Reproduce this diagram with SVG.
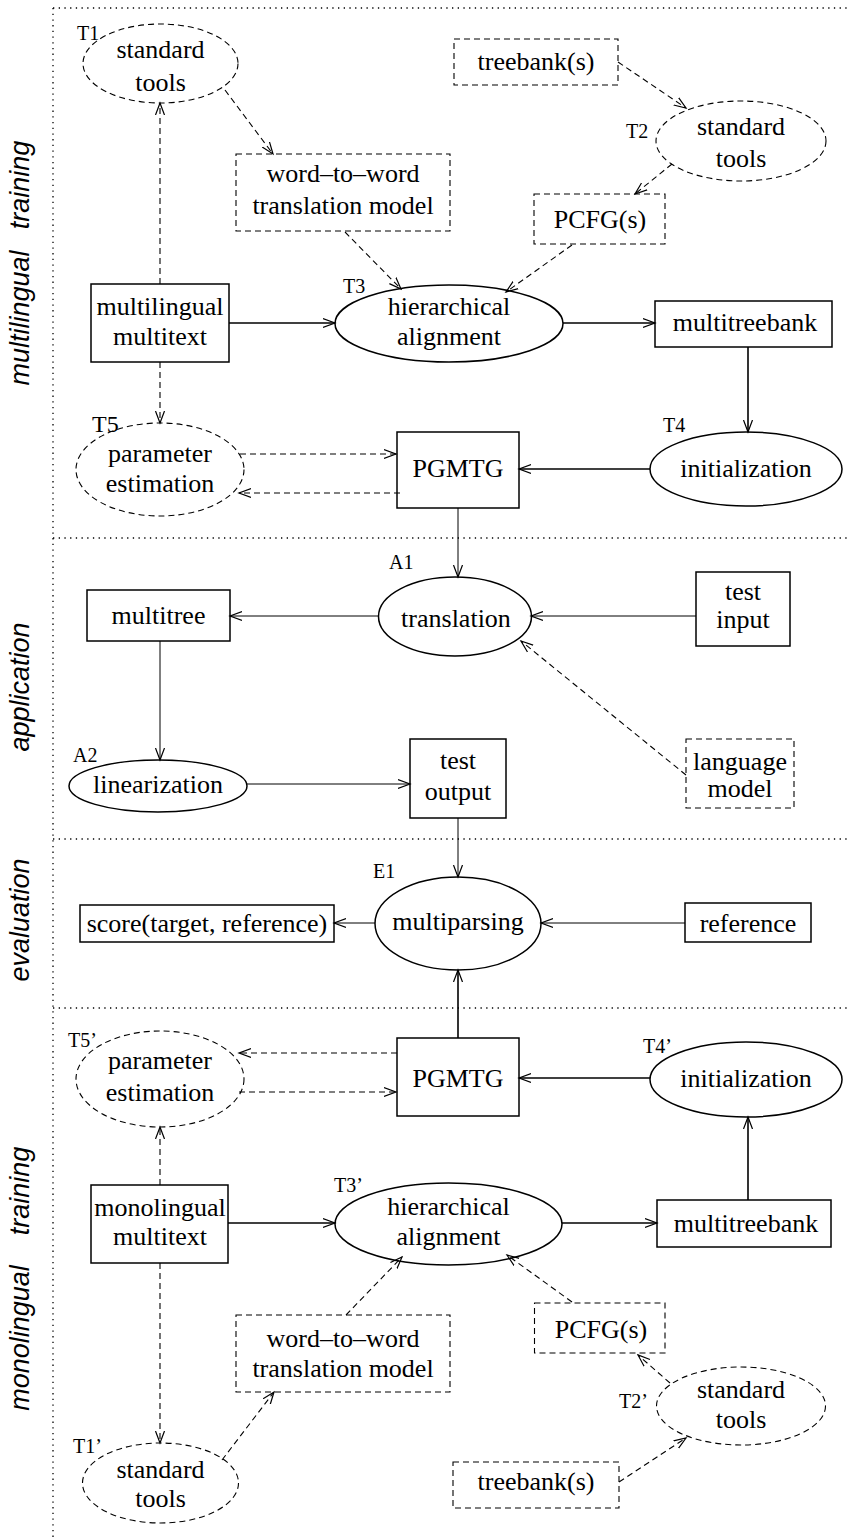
<svg xmlns="http://www.w3.org/2000/svg" width="851" height="1537" viewBox="0 0 851 1537">
<style>
.n{fill:#fff;stroke:#000;stroke-width:1.5}
.nd{fill:#fff;stroke:#000;stroke-width:1.1;stroke-dasharray:6 4}
.t{font-family:"Liberation Serif","Times New Roman",serif;font-size:26px;text-anchor:middle;fill:#000}
.lb{font-family:"Liberation Serif","Times New Roman",serif;font-size:20px;fill:#000}
.sec{font-family:"Liberation Sans",Arial,sans-serif;font-size:27px;font-style:italic;text-anchor:middle;fill:#000}
.dot{fill:none;stroke:#000;stroke-width:1.3;stroke-dasharray:1.3 4.4}
.e{fill:none;stroke:#000;stroke-width:1.6;marker-end:url(#ah)}
.et{fill:none;stroke:#000;stroke-width:1;marker-end:url(#ah)}
.ed{fill:none;stroke:#000;stroke-width:1.1;stroke-dasharray:6 4;marker-end:url(#ah)}
</style>
<defs>
<marker id="ah" markerUnits="userSpaceOnUse" markerWidth="14" markerHeight="12" refX="12" refY="5" orient="auto" viewBox="0 0 14 10">
<path d="M0,0.5 L12,5 L0,9.5" fill="none" stroke="#000" stroke-width="1.2"/>
</marker>
</defs>
<rect width="851" height="1537" fill="#fff"/>
<g id="frame">
<line class="dot" x1="53" y1="8" x2="53" y2="1537"/>
<line class="dot" x1="53" y1="8" x2="851" y2="8"/>
<line class="dot" x1="53" y1="538" x2="851" y2="538"/>
<line class="dot" x1="53" y1="839" x2="851" y2="839"/>
<line class="dot" x1="53" y1="1008" x2="851" y2="1008"/>
</g>
<g id="sections">
<text class="sec" transform="translate(29,185) rotate(-90)">training</text>
<text class="sec" transform="translate(29,318) rotate(-90)">multilingual</text>
<text class="sec" transform="translate(29,687) rotate(-90)">application</text>
<text class="sec" transform="translate(29,920) rotate(-90)">evaluation</text>
<text class="sec" transform="translate(29,1191) rotate(-90)">training</text>
<text class="sec" transform="translate(29,1338) rotate(-90)">monolingual</text>
</g>
<g id="T1">
<ellipse class="nd" cx="160.5" cy="63.5" rx="77.5" ry="39.5"/>
<text class="t" x="160.5" y="58">standard</text>
<text class="t" x="160.5" y="91">tools</text>
<text class="lb" x="77" y="40">T1</text>
</g>
<g id="w2w">
<rect class="nd" x="236" y="154" width="214" height="77"/>
<text class="t" x="343" y="182">word–to–word</text>
<text class="t" x="343" y="214">translation model</text>
</g>
<g id="treebank">
<rect class="nd" x="454" y="39" width="164" height="46"/>
<text class="t" x="536" y="70">treebank(s)</text>
</g>
<g id="T2">
<ellipse class="nd" cx="741" cy="141" rx="85" ry="40"/>
<text class="t" x="741" y="135">standard</text>
<text class="t" x="741" y="167">tools</text>
<text class="lb" x="626" y="138">T2</text>
</g>
<g id="pcfg">
<rect class="nd" x="534" y="194" width="131" height="50"/>
<text class="t" x="600" y="228">PCFG(s)</text>
</g>
<g id="multitext">
<rect class="n" x="91" y="284" width="138" height="78"/>
<text class="t" x="160" y="315">multilingual</text>
<text class="t" x="160" y="345">multitext</text>
</g>
<g id="T3">
<ellipse class="n" cx="449" cy="323.5" rx="114" ry="38.5"/>
<text class="t" x="449" y="315">hierarchical</text>
<text class="t" x="449" y="345">alignment</text>
<text class="lb" x="343" y="293">T3</text>
</g>
<g id="multitreebank">
<rect class="n" x="655" y="301" width="177" height="46"/>
<text class="t" x="745" y="331">multitreebank</text>
</g>
<g id="T5">
<ellipse class="nd" cx="160" cy="469.5" rx="84" ry="46.5"/>
<text class="t" x="160" y="462">parameter</text>
<text class="t" x="160" y="492">estimation</text>
<text class="lb" x="92" y="432" style="font-size:24px">T5</text>
</g>
<g id="PGMTG">
<rect class="n" x="397" y="432" width="122" height="76"/>
<text class="t" x="458" y="477">PGMTG</text>
</g>
<g id="T4">
<ellipse class="n" cx="746" cy="469" rx="96" ry="37"/>
<text class="t" x="746" y="477">initialization</text>
<text class="lb" x="663" y="432">T4</text>
</g>
<g id="A1">
<ellipse class="n" cx="455" cy="616.5" rx="76.5" ry="39.5"/>
<text class="t" x="456" y="627">translation</text>
<text class="lb" x="389" y="569">A1</text>
</g>
<g id="multitree">
<rect class="n" x="87" y="590" width="143" height="51"/>
<text class="t" x="158.5" y="624">multitree</text>
</g>
<g id="testinput">
<rect class="n" x="696" y="572" width="94" height="74"/>
<text class="t" x="743" y="600">test</text>
<text class="t" x="743" y="628">input</text>
</g>
<g id="A2">
<ellipse class="n" cx="158" cy="786" rx="89" ry="26"/>
<text class="t" x="158" y="793">linearization</text>
<text class="lb" x="73" y="762">A2</text>
</g>
<g id="testoutput">
<rect class="n" x="410" y="739" width="96" height="79"/>
<text class="t" x="458" y="769">test</text>
<text class="t" x="458" y="800">output</text>
</g>
<g id="langmodel">
<rect class="nd" x="686" y="739" width="108" height="69"/>
<text class="t" x="740" y="770">language</text>
<text class="t" x="740" y="797">model</text>
</g>
<g id="E1">
<ellipse class="n" cx="458" cy="923.5" rx="83" ry="46.5"/>
<text class="t" x="458" y="930">multiparsing</text>
<text class="lb" x="373" y="878">E1</text>
</g>
<g id="score">
<rect class="n" x="80" y="905" width="254" height="37"/>
<text class="t" x="207" y="932">score(target, reference)</text>
</g>
<g id="reference">
<rect class="n" x="685" y="903" width="126" height="39"/>
<text class="t" x="748" y="932">reference</text>
</g>
<g id="T5p">
<ellipse class="nd" cx="160" cy="1079" rx="84" ry="48"/>
<text class="t" x="160" y="1069">parameter</text>
<text class="t" x="160" y="1101">estimation</text>
<text class="lb" x="68" y="1047">T5’</text>
</g>
<g id="PGMTGp">
<rect class="n" x="397" y="1038" width="122" height="78"/>
<text class="t" x="458" y="1087">PGMTG</text>
</g>
<g id="T4p">
<ellipse class="n" cx="746" cy="1079.5" rx="96" ry="37.5"/>
<text class="t" x="746" y="1087">initialization</text>
<text class="lb" x="643" y="1053">T4’</text>
</g>
<g id="monotext">
<rect class="n" x="91" y="1185" width="137" height="78"/>
<text class="t" x="160" y="1216">monolingual</text>
<text class="t" x="160" y="1245">multitext</text>
</g>
<g id="T3p">
<ellipse class="n" cx="448.5" cy="1224" rx="113.5" ry="41"/>
<text class="t" x="448.5" y="1215">hierarchical</text>
<text class="t" x="448.5" y="1245">alignment</text>
<text class="lb" x="334" y="1192">T3’</text>
</g>
<g id="multitreebankp">
<rect class="n" x="657" y="1200" width="174" height="47"/>
<text class="t" x="746" y="1232">multitreebank</text>
</g>
<g id="w2wp">
<rect class="nd" x="236" y="1315" width="214" height="77"/>
<text class="t" x="343" y="1347">word–to–word</text>
<text class="t" x="343" y="1377">translation model</text>
</g>
<g id="pcfgp">
<rect class="nd" x="534.5" y="1303" width="130.5" height="50"/>
<text class="t" x="601" y="1338">PCFG(s)</text>
</g>
<g id="T2p">
<ellipse class="nd" cx="741" cy="1406" rx="84.5" ry="39"/>
<text class="t" x="741" y="1398">standard</text>
<text class="t" x="741" y="1428">tools</text>
<text class="lb" x="619" y="1408">T2’</text>
</g>
<g id="treebankp">
<rect class="nd" x="453" y="1462" width="166" height="46"/>
<text class="t" x="536" y="1490">treebank(s)</text>
</g>
<g id="T1p">
<ellipse class="nd" cx="160.5" cy="1483" rx="78" ry="40"/>
<text class="t" x="160.5" y="1478">standard</text>
<text class="t" x="160.5" y="1507">tools</text>
<text class="lb" x="73" y="1453">T1’</text>
</g>
<g id="connectors">
<line class="ed" x1="225" y1="90" x2="273" y2="154"/>
<line class="ed" x1="160" y1="284" x2="160" y2="103"/>
<line class="ed" x1="160" y1="362" x2="160" y2="423"/>
<line class="ed" x1="618" y1="62" x2="686" y2="108"/>
<line class="ed" x1="672" y1="164" x2="635" y2="194"/>
<line class="ed" x1="345" y1="232" x2="401" y2="289"/>
<line class="ed" x1="572" y1="245" x2="506" y2="292"/>
<line class="e" x1="229" y1="323" x2="335" y2="323"/>
<line class="e" x1="563" y1="323" x2="655" y2="323"/>
<line class="e" x1="748" y1="347" x2="748" y2="432"/>
<line class="e" x1="650" y1="469" x2="519" y2="469"/>
<line class="ed" x1="240" y1="454" x2="396" y2="454"/>
<line class="ed" x1="400" y1="493" x2="239" y2="493"/>
<line class="et" x1="458" y1="508" x2="458" y2="577"/>
<line class="et" x1="378" y1="616" x2="230" y2="616"/>
<line class="et" x1="696" y1="616" x2="531" y2="616"/>
<line class="ed" x1="686" y1="775" x2="521" y2="641"/>
<line class="et" x1="160" y1="641" x2="160" y2="760"/>
<line class="et" x1="247" y1="784" x2="410" y2="784"/>
<line class="et" x1="458" y1="818" x2="458" y2="877"/>
<line class="et" x1="375" y1="923" x2="334" y2="923"/>
<line class="et" x1="685" y1="923" x2="541" y2="923"/>
<line class="e" x1="458" y1="1038" x2="458" y2="970"/>
<line class="ed" x1="397" y1="1053" x2="239" y2="1053"/>
<line class="ed" x1="239" y1="1092" x2="396" y2="1092"/>
<line class="e" x1="650" y1="1078" x2="519" y2="1078"/>
<line class="e" x1="748" y1="1200" x2="748" y2="1117"/>
<line class="ed" x1="160" y1="1185" x2="160" y2="1127"/>
<line class="ed" x1="160" y1="1263" x2="160" y2="1443"/>
<line class="e" x1="228" y1="1223" x2="335" y2="1223"/>
<line class="e" x1="562" y1="1223" x2="657" y2="1223"/>
<line class="ed" x1="346" y1="1315" x2="402" y2="1257"/>
<line class="ed" x1="572" y1="1302" x2="507" y2="1255"/>
<line class="ed" x1="670" y1="1383" x2="638" y2="1355"/>
<line class="ed" x1="619" y1="1482" x2="686" y2="1438"/>
<line class="ed" x1="222" y1="1460" x2="274" y2="1392"/>
</g>
</svg>
